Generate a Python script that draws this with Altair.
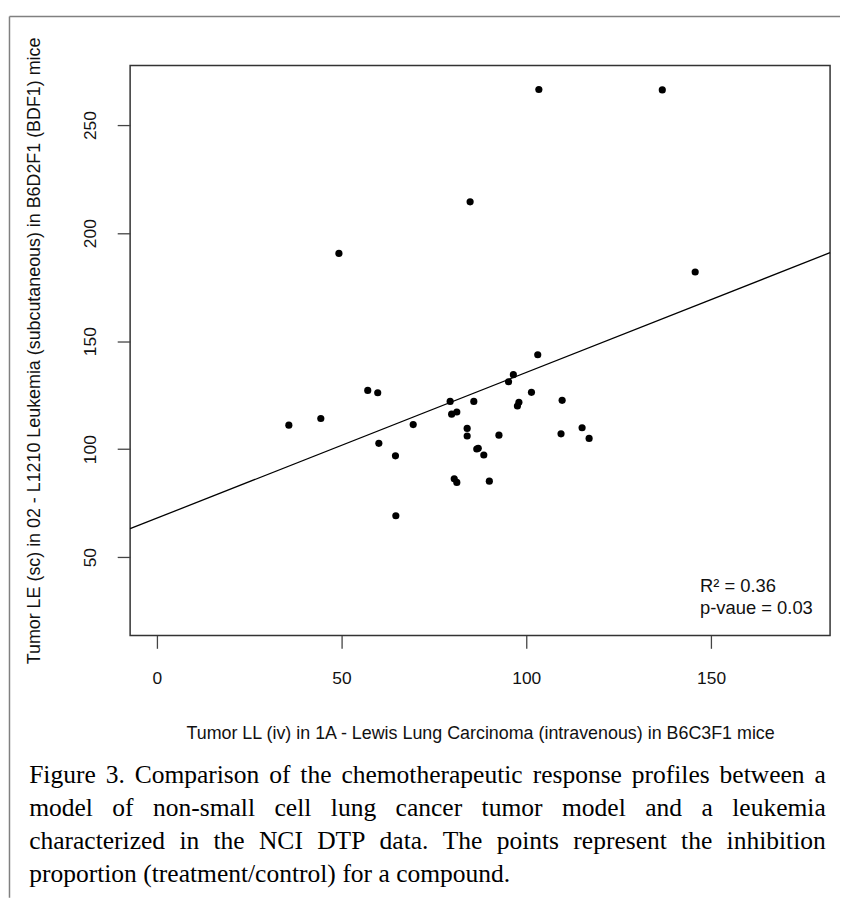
import altair as alt
import pandas as pd

# ---- data ----
x_vals = [35.75, 44.4, 49.3, 57.1, 59.8, 60.1, 64.6, 64.7, 69.4, 79.4, 79.8, 81.2,
          80.5, 81.2, 84.0, 84.0, 84.8, 85.8, 86.6, 87.0, 88.5, 90.0, 92.6, 95.2,
          96.5, 97.6, 98.0, 101.4, 103.1, 103.4, 109.4, 109.7, 115.1, 117.0, 136.8, 145.7]
y_vals = [111.1, 114.2, 190.6, 127.2, 126.1, 102.7, 96.9, 69.2, 111.4, 122.1, 116.2, 117.2,
          86.3, 84.6, 109.6, 106.1, 214.5, 122.1, 100.1, 100.4, 97.3, 85.2, 106.5, 131.2,
          134.5, 120.0, 121.7, 126.3, 143.7, 266.5, 107.1, 122.6, 109.9, 105.0, 266.3, 182.0]

x_ticks = [0, 50, 100, 150]
y_ticks = [50, 100, 150, 200, 250]
x_domain = [-7.2, 182.2]
y_domain = [13.8, 277.6]

x_title = "Tumor LL (iv) in 1A - Lewis Lung Carcinoma (intravenous) in B6C3F1 mice"
y_title = "Tumor LE (sc) in 02 - L1210 Leukemia (subcutaneous) in B6D2F1 (BDF1) mice"
stats_lines = ["R\u00b2 = 0.36", "p-vaue = 0.03"]
caption_lines = [
    "Figure 3. Comparison of the chemotherapeutic response profiles between a",
    "model of non-small cell lung cancer tumor model and a leukemia",
    "characterized in the NCI DTP data. The points represent the inhibition",
    "proportion (treatment/control) for a compound.",
]

# ---- layout ----
W, H = 705, 574
PAD = {"left": 123, "top": 54.7, "right": 10, "bottom": 264.3}
CAP_FS = 25.7
CAP_LEFT = -101.7
CAP_RIGHT = 700.7
CAP_BASE0 = 722.3
CAP_STEP = 33.5

# Times (Liberation Serif) advance widths per 1000 em
TW = {c: 500 for c in "bdghknopquvxy0123456789"}
TW.update({"a": 444, "c": 444, "e": 444, "z": 444, "f": 333, "r": 333, "i": 278, "j": 278,
           "l": 278, "t": 278, "m": 778, "s": 389, "w": 722, " ": 250, ".": 250, ",": 250,
           "-": 333, "(": 333, ")": 333, "/": 278, "C": 667, "D": 722, "F": 556, "I": 333,
           "N": 722, "P": 556, "T": 611})


def layout_line(line, idx, last):
    words = line.split(" ")
    ws = [sum(TW.get(ch, 500) for ch in w) * CAP_FS / 1000 for w in words]
    if last:
        gap = 250 * CAP_FS / 1000
    else:
        gap = (CAP_RIGHT - CAP_LEFT - sum(ws)) / (len(words) - 1)
    rows, pos = [], CAP_LEFT
    for w, wd in zip(words, ws):
        rows.append({"word": w, "px": pos, "py": CAP_BASE0 + idx * CAP_STEP})
        pos += wd + gap
    return rows


cap_rows = []
for i, ln in enumerate(caption_lines):
    cap_rows += layout_line(ln, i, i == len(caption_lines) - 1)
cap_df = pd.DataFrame(cap_rows)

df = pd.DataFrame({"x": x_vals, "y": y_vals})
one = pd.DataFrame({"k": [0]})

FONT = "Liberation Sans"
TXT = "#111111"

xenc = alt.X("x:Q", scale=alt.Scale(domain=x_domain, nice=False, zero=False),
             axis=alt.Axis(values=x_ticks, title=x_title, domain=False, grid=False,
                           tickSize=13, tickColor="#444444", tickWidth=1.3,
                           labelFont=FONT, labelFontSize=17.5, labelColor=TXT,
                           labelBaseline="middle", labelPadding=30.7, labelFlush=False,
                           titleFont=FONT, titleFontSize=18, titleFontWeight="normal",
                           titleColor=TXT, titleX=352.5, titleY=99.1,
                           titleAlign="center", titleBaseline="middle"))
yenc = alt.Y("y:Q", scale=alt.Scale(domain=y_domain, nice=False, zero=False),
             axis=alt.Axis(values=y_ticks, title=y_title, domain=False, grid=False,
                           tickSize=13, tickColor="#444444", tickWidth=1.3,
                           labelFont=FONT, labelFontSize=17.5, labelColor=TXT,
                           labelAngle=270, labelAlign="center", labelBaseline="middle",
                           labelPadding=27.2, labelFlush=False,
                           titleFont=FONT, titleFontSize=18, titleFontWeight="normal",
                           titleColor=TXT, titleAngle=270, titleX=-96, titleY=287,
                           titleAlign="center", titleBaseline="middle"))

points = alt.Chart(df).mark_circle(size=52, color="black", opacity=1).encode(x=xenc, y=yenc)

fit = (alt.Chart(df)
       .transform_regression("x", "y", extent=x_domain)
       .mark_line(color="black", strokeWidth=1.3)
       .encode(x="x:Q", y="y:Q"))

stats = alt.Chart(one).mark_text(align="left", baseline="alphabetic", font=FONT,
                                 fontSize=18.5, lineHeight=22, color=TXT).encode(
    x=alt.value(574), y=alt.value(530.6), text=alt.value(stats_lines))

caption = alt.Chart(cap_df).mark_text(align="left", baseline="alphabetic",
                                      font="Liberation Serif", fontSize=CAP_FS,
                                      color="#000000").encode(
    x=alt.X("px:Q", scale=None), y=alt.Y("py:Q", scale=None), text="word:N")

border_left = alt.Chart(one).mark_rule(color="#808080", strokeWidth=1.5).encode(
    x=alt.value(-121.5), y=alt.value(-49.4), y2=alt.value(H + PAD["bottom"]))
border_top = alt.Chart(one).mark_rule(color="#808080", strokeWidth=1.5).encode(
    x=alt.value(-121.5), x2=alt.value(W + PAD["right"]), y=alt.value(-49.4))

chart = (alt.layer(points, fit, stats, caption, border_left, border_top)
         .properties(width=W, height=H, padding=PAD,
                     autosize=alt.AutoSizeParams(type="none"), background="white")
         .configure_view(stroke="#333333", strokeWidth=1.5))

chart.save("out.html", embed_options={"renderer": "svg", "actions": False})
